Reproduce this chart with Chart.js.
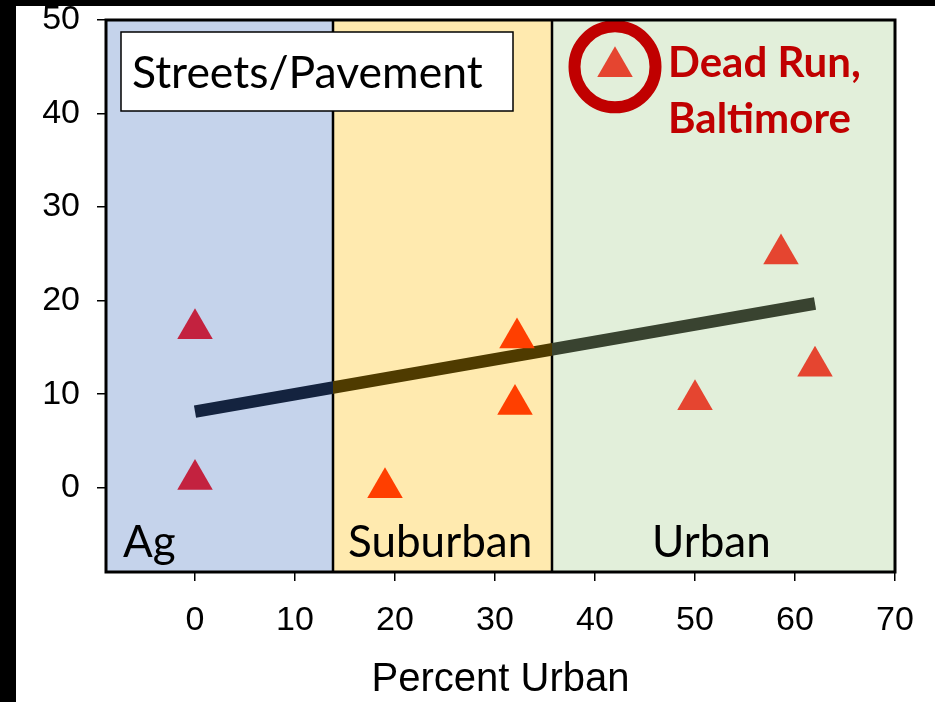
<!DOCTYPE html>
<html>
<head>
<meta charset="utf-8">
<script src="https://cdn.jsdelivr.net/npm/chart.js@4.4.1/dist/chart.umd.min.js"></script>
<style>
    html, body { margin: 0; padding: 0; background: #fff; }
    canvas { display: block; }
</style>
</head>
<body>
<canvas id="pavementChart" width="935" height="702"></canvas>
<script>
// --- 1. DATA ---
const xTicks = [0, 10, 20, 30, 40, 50, 60, 70];
const yTicks = [0, 10, 20, 30, 40, 50];

const zoneNames = ['Ag', 'Suburban', 'Urban'];
const zoneEdges = [-8.9, 13.8, 35.7, 70];

const agX = [0, 0];
const agY = [17.0, 0.9];
const suburbanX = [19, 32.2, 32];
const suburbanY = [0, 16.0, 8.9];
const urbanX = [50, 58.6, 62];
const urbanY = [9.4, 25.0, 13.0];
const deadRunX = [42];
const deadRunY = [45.0];

const trendX = [0, 62];
const trendY = [8.14, 19.7];

function toPoints(xs, ys) {
    return xs.map((x, i) => ({ x: x, y: ys[i] }));
}

// --- 2. STYLES ---
const zoneFill = ['#C5D3EB', '#FFEAAF', '#E2EFDA'];
const trendColors = ['#14233F', '#4F3B00', '#394330'];
const labelFont = 'Lato, "Open Sans", sans-serif';
const tickFont = { family: 'Liberation Sans, Arial', size: 34 };

// trend line colour changes in each zone (hard stops)
function trendGradient(context) {
    const chart = context.chart;
    const area = chart.chartArea;
    if (!area) return trendColors[0];
    const xs = chart.scales.x;
    const g = chart.ctx.createLinearGradient(area.left, 0, area.right, 0);
    const w = area.right - area.left;
    for (let i = 0; i < zoneNames.length; i++) {
        const a = Math.max(0, Math.min(1, (xs.getPixelForValue(zoneEdges[i]) - area.left) / w));
        const b = Math.max(0, Math.min(1, (xs.getPixelForValue(zoneEdges[i + 1]) - area.left) / w));
        g.addColorStop(a, trendColors[i]);
        g.addColorStop(b, trendColors[i]);
    }
    return g;
}

// --- 3. PLUGINS ---
const zonePlugin = {
    id: 'zones',
    beforeDatasetsDraw(chart) {
        const { ctx, chartArea: area, scales } = chart;
        ctx.save();
        // background zones
        for (let i = 0; i < zoneNames.length; i++) {
            const l = scales.x.getPixelForValue(zoneEdges[i]);
            const r = scales.x.getPixelForValue(zoneEdges[i + 1]);
            ctx.fillStyle = zoneFill[i];
            ctx.fillRect(l, area.top, r - l, area.bottom - area.top);
        }
        // zone dividers
        ctx.strokeStyle = '#000';
        ctx.lineWidth = 2.5;
        for (let i = 1; i < zoneNames.length; i++) {
            const px = scales.x.getPixelForValue(zoneEdges[i]);
            ctx.beginPath();
            ctx.moveTo(px, area.top);
            ctx.lineTo(px, area.bottom);
            ctx.stroke();
        }
        // zone names
        ctx.fillStyle = '#000';
        ctx.font = '44px ' + labelFont;
        ctx.textBaseline = 'alphabetic';
        const offsets = [17, 15, 100];
        for (let i = 0; i < zoneNames.length; i++) {
            const l = scales.x.getPixelForValue(zoneEdges[i]);
            ctx.fillText(zoneNames[i], l + offsets[i], area.bottom - 15);
        }
        // title box
        ctx.fillStyle = '#fff';
        ctx.fillRect(121, 32, 392, 79);
        ctx.lineWidth = 1.5;
        ctx.strokeRect(121, 32, 392, 79);
        ctx.fillStyle = '#000';
        ctx.font = '44.5px ' + labelFont;
        ctx.fillText('Streets/Pavement', 132, 88);
        // Dead Run label
        ctx.fillStyle = '#C00000';
        ctx.font = 'bold 42px ' + labelFont;
        ctx.fillText('Dead Run,', 668, 77);
        ctx.fillText('Baltimore', 668, 133);
        ctx.restore();
    },
    afterDraw(chart) {
        const { ctx, chartArea: area } = chart;
        ctx.save();
        // plot frame
        ctx.strokeStyle = '#000';
        ctx.lineWidth = 3;
        ctx.strokeRect(area.left, area.top, area.right - area.left, area.bottom - area.top);
        // black slide edges
        ctx.fillStyle = '#000';
        ctx.fillRect(0, 0, chart.width, 6);
        ctx.fillRect(0, 0, 16, chart.height);
        ctx.restore();
    }
};

// --- 4. CHART ---
const ctx = document.getElementById('pavementChart').getContext('2d');
const triangle = { pointStyle: 'triangle', pointRadius: 20.5, pointBorderWidth: 0, showLine: false };

new Chart(ctx, {
    type: 'scatter',
    data: {
        datasets: [
            {
                type: 'line',
                data: toPoints(trendX, trendY),
                borderColor: trendGradient,
                borderWidth: 12.5,
                borderCapStyle: 'butt',
                pointRadius: 0,
                fill: false,
                order: 5
            },
            Object.assign({ data: toPoints(agX, agY), backgroundColor: '#C3223F' }, triangle),
            Object.assign({ data: toPoints(suburbanX, suburbanY), backgroundColor: '#FF3F00' }, triangle),
            Object.assign({ data: toPoints(urbanX, urbanY), backgroundColor: '#E54530' }, triangle),
            Object.assign({ data: toPoints(deadRunX, deadRunY), backgroundColor: '#E54530' }, triangle),
            {
                data: toPoints(deadRunX, deadRunY),
                pointStyle: 'circle',
                pointRadius: 40.5,
                pointBorderWidth: 12,
                pointBorderColor: '#C00000',
                backgroundColor: 'rgba(0,0,0,0)',
                showLine: false
            }
        ]
    },
    options: {
        responsive: false,
        animation: false,
        events: [],
        layout: { autoPadding: false, padding: { left: 0, right: 40, top: 20, bottom: 0 } },
        plugins: { legend: { display: false }, tooltip: { enabled: false } },
        scales: {
            x: {
                type: 'linear',
                min: zoneEdges[0],
                max: 70,
                afterBuildTicks: scale => { scale.ticks = xTicks.map(v => ({ value: v })); },
                afterFit: scale => {
                    scale.height = 130;
                    scale.paddingLeft = 0;
                    scale.paddingRight = 0;
                },
                border: { display: false },
                grid: { drawOnChartArea: false, drawTicks: true, tickLength: 9, color: '#000', lineWidth: 1.5 },
                ticks: { color: '#000', padding: 19, maxRotation: 0, font: tickFont },
                title: {
                    display: true,
                    text: 'Percent Urban',
                    color: '#000',
                    padding: { top: 0, bottom: 0 },
                    font: { family: 'Liberation Sans, Arial', size: 40, lineHeight: 1.1 }
                }
            },
            y: {
                type: 'linear',
                min: -9,
                max: 50,
                afterBuildTicks: scale => { scale.ticks = yTicks.map(v => ({ value: v })); },
                afterFit: scale => {
                    scale.width = 106;
                    scale.paddingTop = 0;
                    scale.paddingBottom = 0;
                },
                border: { display: false },
                grid: { drawOnChartArea: false, drawTicks: true, tickLength: 9, color: '#000', lineWidth: 1.5 },
                ticks: { color: '#000', padding: 17, font: tickFont }
            }
        }
    },
    plugins: [zonePlugin]
});
</script>
</body>
</html>
